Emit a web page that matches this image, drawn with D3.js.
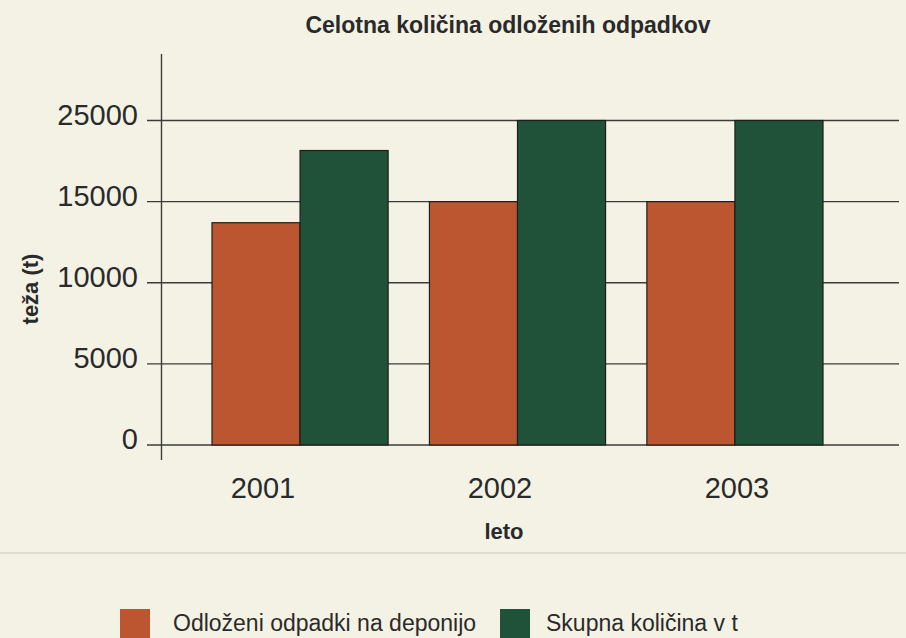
<!DOCTYPE html>
<html>
<head>
<meta charset="utf-8">
<script src="https://cdn.jsdelivr.net/npm/d3@7"></script>
<style>
  body { margin: 0; background: #f4f2e4; }
  svg { display: block; font-family: "Liberation Sans", Arial, sans-serif; }
</style>
</head>
<body>
<div id="chart"></div>
<script>
// podatki
const years = ["2001", "2002", "2003"];
const deponija = [13700, 15000, 15000];
const skupno = [18150, 20000, 20000];
const tickValues = [0, 5000, 10000, 15000, 20000];
const tickLabels = ["0", "5000", "10000", "15000", "25000"];
const seriesNames = ["Odloženi odpadki na deponijo", "Skupna količina v t"];
const colors = ["#bb5630", "#20523a"];

const W = 906, H = 638;

const svg = d3.select("#chart").append("svg")
    .attr("width", W)
    .attr("height", H);

svg.append("rect").attr("width", W).attr("height", H).attr("fill", "#f4f2e4");

const y = d3.scaleLinear().domain([0, 20000]).range([445, 120.5]);
const x = d3.scaleBand().domain(years).range([161, 874])
    .paddingInner(0.19).paddingOuter(0.2345);
const xs = d3.scaleBand().domain([0, 1]).range([0, x.bandwidth()]);
const xLabel = d3.scalePoint().domain(years).range([263, 737]);

// mreža
svg.append("g").selectAll("line")
    .data(tickValues)
    .join("line")
    .attr("x1", 147).attr("x2", 899)
    .attr("y1", d => y(d)).attr("y2", d => y(d))
    .attr("stroke", "#3c3c3a")
    .attr("stroke-width", 1.4);

// os y
svg.append("line")
    .attr("x1", 161.5).attr("x2", 161.5)
    .attr("y1", 54).attr("y2", 460)
    .attr("stroke", "#3c3c3a").attr("stroke-width", 1.4);

svg.append("g").selectAll("text")
    .data(tickValues)
    .join("text")
    .attr("x", 138)
    .attr("y", d => y(d) + 4)
    .attr("text-anchor", "end")
    .attr("font-size", 29)
    .attr("fill", "#2a2a2a")
    .text((d, i) => tickLabels[i]);

// stolpci
const rows = years.map((yr, i) => ({ yr, vals: [deponija[i], skupno[i]] }));
svg.append("g").selectAll("g")
    .data(rows)
    .join("g")
    .attr("transform", d => `translate(${x(d.yr)},0)`)
    .selectAll("rect")
    .data(d => d.vals.map((v, k) => ({ v, k })))
    .join("rect")
    .attr("x", d => xs(d.k))
    .attr("y", d => y(d.v))
    .attr("width", xs.bandwidth())
    .attr("height", d => y(0) - y(d.v))
    .attr("fill", d => colors[d.k])
    .attr("stroke", "#1e1e1a")
    .attr("stroke-width", 1.2);

// oznake x
svg.append("g").selectAll("text")
    .data(years)
    .join("text")
    .attr("x", d => xLabel(d))
    .attr("y", 498)
    .attr("text-anchor", "middle")
    .attr("font-size", 29)
    .attr("fill", "#2a2a2a")
    .text(d => d);

svg.append("text")
    .attr("x", 504).attr("y", 539)
    .attr("text-anchor", "middle")
    .attr("font-size", 22).attr("font-weight", "bold")
    .attr("fill", "#2a2a2a")
    .text("leto");

svg.append("text")
    .attr("transform", "translate(38,289) rotate(-90)")
    .attr("text-anchor", "middle")
    .attr("font-size", 22).attr("font-weight", "bold")
    .attr("fill", "#2a2a2a")
    .text("teža (t)");

svg.append("text")
    .attr("x", 508).attr("y", 33)
    .attr("text-anchor", "middle")
    .attr("font-size", 23).attr("font-weight", "bold")
    .attr("fill", "#2a2a2a")
    .text("Celotna količina odloženih odpadkov");

// pregib papirja
svg.append("line")
    .attr("x1", 0).attr("x2", W)
    .attr("y1", 553).attr("y2", 553)
    .attr("stroke", "#d9d6c8").attr("stroke-width", 1.5);

// legenda
const legX = [120, 500];
const legTextX = [53, 46];
const leg = svg.append("g").selectAll("g")
    .data(seriesNames)
    .join("g")
    .attr("transform", (d, i) => `translate(${legX[i]},609)`);
leg.append("rect")
    .attr("width", 30).attr("height", 30)
    .attr("fill", (d, i) => colors[i]);
leg.append("text")
    .attr("x", (d, i) => legTextX[i]).attr("y", 22)
    .attr("font-size", 23)
    .attr("fill", "#2a2a2a")
    .text(d => d);
</script>
</body>
</html>
